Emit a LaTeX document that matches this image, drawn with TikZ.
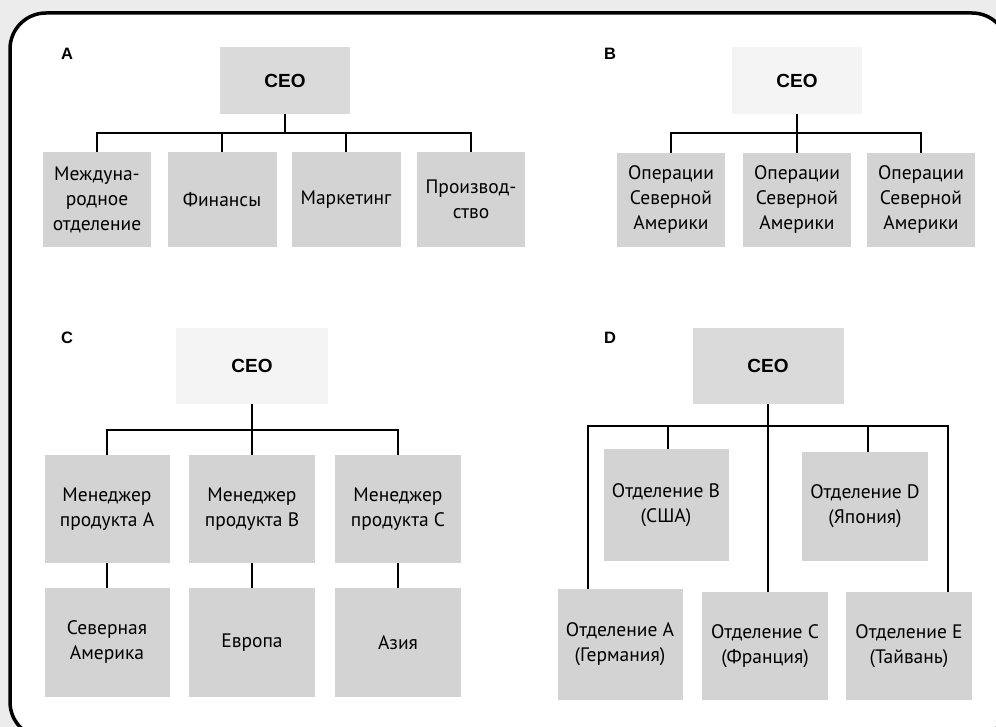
\documentclass[tikz,border=0pt]{standalone}
\usepackage{fontspec}
\setmainfont{PT Sans}
\newfontfamily\headfont{Liberation Sans}
\usepackage{xcolor}
\definecolor{pagegray}{RGB}{236,236,236}
\definecolor{boxgray}{RGB}{211,211,211}
\definecolor{ceogray}{RGB}{218,218,218}
\definecolor{ceolight}{RGB}{244,244,244}

\tikzset{
  unitbox/.style={rectangle, fill=boxgray, align=center, inner sep=0pt,
    font=\fontsize{19.5}{25}\selectfont},
  ceobox/.style={rectangle, fill=ceogray, inner sep=0pt,
    font=\headfont\bfseries\fontsize{19}{22}\selectfont},
  panel/.style={font=\headfont\bfseries\fontsize{16.5}{18}\selectfont},
  link/.style={line width=1.6pt}
}

\begin{document}
\begin{tikzpicture}[x=1pt, y=-1pt]
\useasboundingbox (0,0) rectangle (996,727);
\fill[pagegray] (0,0) rectangle (996,727);
\begin{scope}
\clip (0,0) rectangle (996,727);
\draw[line width=3.5pt, fill=white, rounded corners=36pt] (10,13) rectangle (1008,738);
\end{scope}

% Panel A
\node[panel] (labA) at (67,54) {A};
\node[ceobox, minimum width=130pt, minimum height=67pt] (ceoA) at (285,80.5) {CEO};
\node[unitbox, minimum width=108pt, minimum height=95pt] (intl) at (97,199.5) {Междуна-\\родное\\отделение};
\node[unitbox, minimum width=109pt, minimum height=95pt] (fin) at (222,199.5) {Финансы};
\node[unitbox, minimum width=109pt, minimum height=95pt] (mkt) at (346,199.5) {Маркетинг};
\node[unitbox, minimum width=108pt, minimum height=95pt] (prod) at (471,199.5) {Производ-\\ство};
\coordinate (busA) at (285,133);
\draw[link] (ceoA) -- (busA);
\draw[link] (busA) -| (intl.north);
\draw[link] (busA) -| (fin.north);
\draw[link] (busA) -| (mkt.north);
\draw[link] (busA) -| (prod.north);

% Panel B
\node[panel] (labB) at (610,54) {B};
\node[ceobox, fill=ceolight, minimum width=130pt, minimum height=67pt] (ceoB) at (797,80.5) {CEO};
\node[unitbox, minimum width=108pt, minimum height=94pt] (opsA) at (671,200) {Операции\\Северной\\Америки};
\node[unitbox, minimum width=108pt, minimum height=94pt] (opsB) at (797,200) {Операции\\Северной\\Америки};
\node[unitbox, minimum width=108pt, minimum height=94pt] (opsC) at (921,200) {Операции\\Северной\\Америки};
\coordinate (busB) at (797,133);
\draw[link] (ceoB) -- (opsB);
\draw[link] (busB) -| (opsA.north);
\draw[link] (busB) -| (opsC.north);

% Panel C
\node[panel] (labC) at (67,338) {C};
\node[ceobox, fill=ceolight, minimum width=152pt, minimum height=76pt] (ceoC) at (252,366) {CEO};
\node[unitbox, minimum width=125pt, minimum height=108pt] (mgrA) at (107,509) {Менеджер\\продукта A};
\node[unitbox, minimum width=126pt, minimum height=108pt] (mgrB) at (252,509) {Менеджер\\продукта B};
\node[unitbox, minimum width=126pt, minimum height=108pt] (mgrC) at (398,509) {Менеджер\\продукта C};
\node[unitbox, minimum width=125pt, minimum height=109pt] (amer) at (107,642.5) {Северная\\Америка};
\node[unitbox, minimum width=126pt, minimum height=109pt] (euro) at (252,642.5) {Европа};
\node[unitbox, minimum width=126pt, minimum height=109pt] (asia) at (398,642.5) {Азия};
\coordinate (busC) at (252,430);
\draw[link] (ceoC) -- (mgrB);
\draw[link] (busC) -| (mgrA.north);
\draw[link] (busC) -| (mgrC.north);
\draw[link] (mgrA) -- (amer);
\draw[link] (mgrB) -- (euro);
\draw[link] (mgrC) -- (asia);

% Panel D
\node[panel] (labD) at (610,338) {D};
\node[ceobox, minimum width=151pt, minimum height=76pt] (ceoD) at (768,366) {CEO};
\node[unitbox, minimum width=125pt, minimum height=112pt] (divB) at (666,505) {Отделение B\\(США)};
\node[unitbox, minimum width=126pt, minimum height=109pt] (divD) at (865,506.5) {Отделение D\\(Япония)};
\node[unitbox, minimum width=125pt, minimum height=111pt] (divA) at (620,644.5) {Отделение A\\(Германия)};
\node[unitbox, minimum width=126pt, minimum height=108pt] (divC) at (765,646) {Отделение C\\(Франция)};
\node[unitbox, minimum width=126pt, minimum height=108pt] (divE) at (909,646) {Отделение E\\(Тайвань)};
\coordinate (busD) at (768,426);
\draw[link] (ceoD.south) -- (busD);
\draw[link] (busD) -| (divA.north -| 588,0);
\draw[link] (busD) -| (divB.north -| 668,0);
\draw[link] (busD) -- (divC.north -| busD);
\draw[link] (busD) -| (divD.north -| 868,0);
\draw[link] (busD) -| (divE.north -| 948,0);
\end{tikzpicture}
\end{document}
